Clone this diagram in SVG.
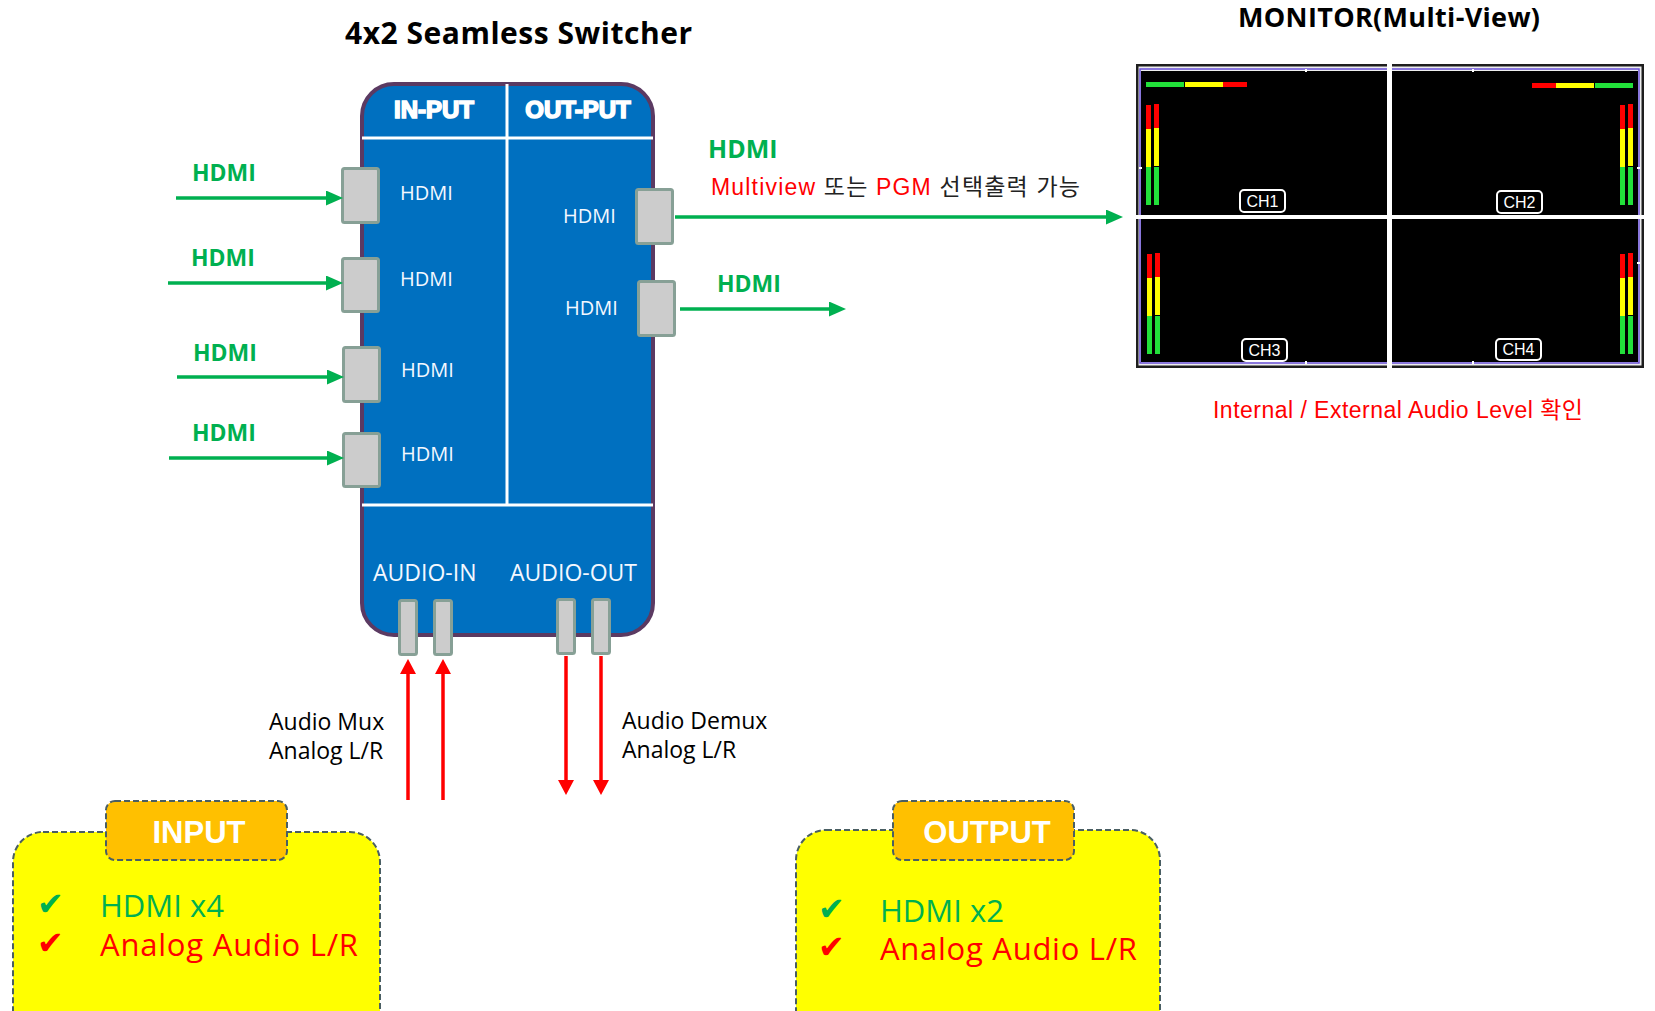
<svg xmlns="http://www.w3.org/2000/svg" width="1655" height="1011" viewBox="0 0 1655 1011">
<defs>
<style>
.title{font-family:"Open Sans","Noto Sans",sans-serif;font-weight:700;fill:#000}
.glab{font-family:"Open Sans","Noto Sans",sans-serif;font-weight:700;fill:#00B050}
.wlab{font-family:"Open Sans","Noto Sans",sans-serif;fill:#F4F8FF}
.hdr{font-family:"Liberation Sans",sans-serif;font-weight:900;fill:#fff;stroke:#fff;stroke-width:1.6;text-anchor:middle}
.blk{font-family:"Open Sans","Noto Sans",sans-serif;fill:#000}
.ar{font-family:"Liberation Sans","Noto Sans CJK KR",sans-serif}
.port{fill:#CCCCCC;stroke:#87A096;stroke-width:3}
.g{stroke:#00B050;stroke-width:3.5;fill:none}
.r{stroke:#FF0000;stroke-width:3.5;fill:none}
.wl{stroke:#FFFFFF;stroke-width:3;fill:none}
.box{fill:#FFFF00;stroke:#4A5F63;stroke-width:2;stroke-dasharray:6 3}
.tab{fill:#FFC000;stroke:#4A5F63;stroke-width:2;stroke-dasharray:6 3}
.tabt{font-family:"Liberation Sans",sans-serif;font-weight:700;font-size:31px;fill:#fff;text-anchor:middle}
.big{font-family:"Open Sans","Noto Sans",sans-serif;font-size:31px}
.chk{font-family:"DejaVu Sans",sans-serif;font-size:32px}
.chb{fill:none;stroke:#fff;stroke-width:2}
.cht{font-family:"Liberation Sans",sans-serif;font-size:16px;fill:#fff;text-anchor:middle}
.mr{fill:#FF0000}.my{fill:#FFFF00}.mg{fill:#22E03A}
</style>
<marker id="ag" markerWidth="17" markerHeight="15" refX="7" refY="7.5" orient="auto" markerUnits="userSpaceOnUse"><path d="M0,0 L17,7.5 L0,15 z" fill="#00B050"/></marker>
<marker id="ar" markerWidth="15" markerHeight="16" refX="5" refY="8" orient="auto" markerUnits="userSpaceOnUse"><path d="M0,0 L15,8 L0,16 z" fill="#FF0000"/></marker>
<g id="vmeter">
<rect class="mr" x="0" y="0" width="5" height="24"/><rect class="my" x="0" y="24" width="5" height="38"/><rect class="mg" x="0" y="62" width="5" height="38"/>
<rect class="mr" x="8" y="-1" width="5" height="24"/><rect class="my" x="8" y="23" width="5" height="38"/><rect class="mg" x="8" y="62" width="5" height="38"/>
</g>
</defs>
<rect x="0" y="0" width="1655" height="1011" fill="#fff"/>

<text class="title" x="345" y="44" font-size="30" textLength="347">4x2 Seamless Switcher</text>
<text class="title" x="1238" y="27" font-size="27" textLength="302">MONITOR(Multi-View)</text>

<g id="switcher">
<rect x="362" y="84" width="291" height="551" rx="32" fill="#0070C0" stroke="#5B3A62" stroke-width="4"/>
<line class="wl" x1="362" y1="138" x2="653" y2="138"/>
<line class="wl" x1="507" y1="84" x2="507" y2="505"/>
<line class="wl" x1="362" y1="505" x2="653" y2="505"/>
<text class="hdr" x="434" y="118" font-size="24">IN-PUT</text>
<text class="hdr" x="578" y="118" font-size="24">OUT-PUT</text>
<text class="wlab" x="400" y="200" font-size="20">HDMI</text>
<text class="wlab" x="400" y="286" font-size="20">HDMI</text>
<text class="wlab" x="401" y="377" font-size="20">HDMI</text>
<text class="wlab" x="401" y="461" font-size="20">HDMI</text>
<text class="wlab" x="563" y="223" font-size="20">HDMI</text>
<text class="wlab" x="565" y="315" font-size="20">HDMI</text>
<text class="wlab" x="373" y="581" font-size="23">AUDIO-IN</text>
<text class="wlab" x="510" y="581" font-size="23">AUDIO-OUT</text>
<rect class="port" x="342.5" y="168.5" width="36" height="54" rx="2"/>
<rect class="port" x="342.5" y="258.5" width="36" height="53" rx="2"/>
<rect class="port" x="343.5" y="347.5" width="36" height="54" rx="2"/>
<rect class="port" x="343.5" y="433.5" width="36" height="53" rx="2"/>
<rect class="port" x="636.5" y="189.5" width="36" height="54" rx="2"/>
<rect class="port" x="638.5" y="281.5" width="36" height="54" rx="2"/>
<rect class="port" x="399.5" y="600.5" width="17" height="54" rx="2"/>
<rect class="port" x="434.5" y="600.5" width="17" height="54" rx="2"/>
<rect class="port" x="557.5" y="599.5" width="17" height="54" rx="2"/>
<rect class="port" x="592.5" y="599.5" width="17" height="54" rx="2"/>
</g>

<g id="connectors">
<line class="g" x1="176" y1="198" x2="333" y2="198" marker-end="url(#ag)"/>
<line class="g" x1="168" y1="283" x2="333" y2="283" marker-end="url(#ag)"/>
<line class="g" x1="177" y1="377" x2="334" y2="377" marker-end="url(#ag)"/>
<line class="g" x1="169" y1="458" x2="334" y2="458" marker-end="url(#ag)"/>
<line class="g" x1="675" y1="217" x2="1113" y2="217" marker-end="url(#ag)"/>
<line class="g" x1="680" y1="309" x2="836" y2="309" marker-end="url(#ag)"/>
<line class="r" x1="408" y1="800" x2="408" y2="669" marker-end="url(#ar)"/>
<line class="r" x1="443" y1="800" x2="443" y2="669" marker-end="url(#ar)"/>
<line class="r" x1="566" y1="656" x2="566" y2="785" marker-end="url(#ar)"/>
<line class="r" x1="601" y1="656" x2="601" y2="785" marker-end="url(#ar)"/>
<text class="glab" x="192" y="181" font-size="23">HDMI</text>
<text class="glab" x="191" y="266" font-size="23">HDMI</text>
<text class="glab" x="193" y="361" font-size="23">HDMI</text>
<text class="glab" x="192" y="441" font-size="23">HDMI</text>
<text class="glab" x="708" y="158" font-size="25">HDMI</text>
<text class="glab" x="717" y="292" font-size="23">HDMI</text>
<text class="ar" x="711" y="195" font-size="23" textLength="369"><tspan fill="#FF0000">Multiview</tspan><tspan fill="#222"> 또는 </tspan><tspan fill="#FF0000">PGM</tspan><tspan fill="#222"> 선택출력 가능</tspan></text>
<text class="blk" x="269" y="730" font-size="23">Audio Mux</text>
<text class="blk" x="269" y="759" font-size="23">Analog L/R</text>
<text class="blk" x="622" y="729" font-size="23">Audio Demux</text>
<text class="blk" x="622" y="758" font-size="23">Analog L/R</text>
</g>

<g id="monitor">
<rect x="1136" y="64" width="508" height="304" fill="#1e1e1e"/>
<rect x="1138.5" y="66.5" width="503" height="299" fill="#eeeeee"/>
<rect x="1140" y="69" width="499" height="294" fill="none" stroke="#6A50D8" stroke-width="1.5"/>
<rect x="1141" y="71" width="497" height="291" fill="#000"/>
<rect x="1387" y="64" width="5" height="304" fill="#fff"/>
<rect x="1136" y="215" width="508" height="4" fill="#fff"/>
<g fill="#fff">
<rect x="1305" y="69" width="2" height="3"/><rect x="1472" y="69" width="2" height="3"/>
<rect x="1305" y="361" width="2" height="3"/><rect x="1472" y="361" width="2" height="3"/>
<rect x="1139" y="167" width="3" height="2"/><rect x="1637" y="167" width="3" height="2"/>
<rect x="1637" y="262" width="3" height="2"/>
</g>
<rect class="mg" x="1146" y="82" width="38" height="5"/><rect class="my" x="1185" y="82" width="38" height="5"/><rect class="mr" x="1223" y="82" width="24" height="5"/>
<rect class="mr" x="1532" y="83" width="24" height="5"/><rect class="my" x="1556" y="83" width="38" height="5"/><rect class="mg" x="1595" y="83" width="38" height="5"/>
<use href="#vmeter" x="1146" y="105"/>
<use href="#vmeter" x="1620" y="105"/>
<use href="#vmeter" x="1147" y="254"/>
<use href="#vmeter" x="1620" y="254"/>
<rect class="chb" x="1240" y="190" width="45" height="22" rx="4"/><text class="cht" x="1262.5" y="207">CH1</text>
<rect class="chb" x="1497" y="191" width="45" height="22" rx="4"/><text class="cht" x="1519.5" y="208">CH2</text>
<rect class="chb" x="1242" y="339" width="45" height="22" rx="4"/><text class="cht" x="1264.5" y="356">CH3</text>
<rect class="chb" x="1496" y="339" width="45" height="21" rx="4"/><text class="cht" x="1518.5" y="355">CH4</text>
<text class="ar" x="1213" y="418" font-size="23" fill="#FF0000" textLength="370">Internal / External Audio Level 확인</text>
</g>

<g id="input-box">
<rect class="box" x="13" y="832" width="367" height="230" rx="30"/>
<rect class="tab" x="106" y="801" width="181" height="59" rx="9"/>
<text class="tabt" x="199" y="843">INPUT</text>
<text class="chk" x="37" y="915" fill="#00B050">✔</text>
<text class="chk" x="37" y="954" fill="#FF0000">✔</text>
<text class="big" x="100" y="917" fill="#00B050">HDMI x4</text>
<text class="big" x="100" y="956" fill="#FF0000" textLength="258">Analog Audio L/R</text>
</g>

<g id="output-box">
<rect class="box" x="796" y="830" width="364" height="230" rx="30"/>
<rect class="tab" x="893" y="801" width="181" height="59" rx="9"/>
<text class="tabt" x="987" y="843">OUTPUT</text>
<text class="chk" x="818" y="920" fill="#00B050">✔</text>
<text class="chk" x="818" y="958" fill="#FF0000">✔</text>
<text class="big" x="880" y="922" fill="#00B050">HDMI x2</text>
<text class="big" x="880" y="960" fill="#FF0000" textLength="257">Analog Audio L/R</text>
</g>
</svg>
